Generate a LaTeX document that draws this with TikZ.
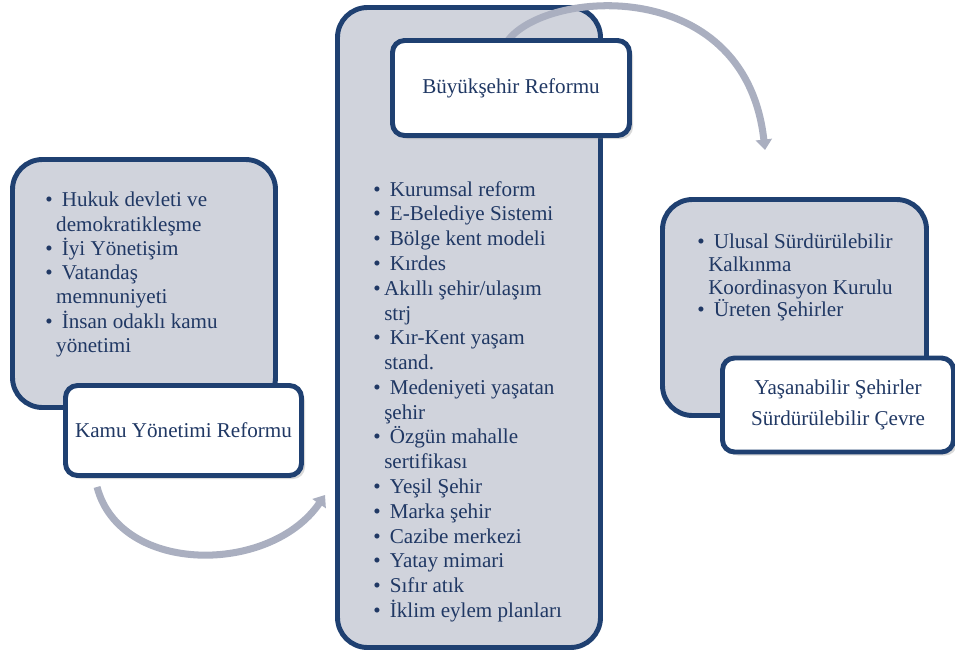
\documentclass[tikz,border=0pt]{standalone}
\usepackage{fontspec}
\setmainfont{Liberation Serif}
\usetikzlibrary{arrows.meta, positioning, calc, shadows}
\definecolor{refblue}{RGB}{31,64,113}
\definecolor{reftext}{RGB}{32,56,100}
\definecolor{refgray}{RGB}{208,211,220}
\definecolor{refarrow}{RGB}{170,175,192}
\newcommand{\bul}{\textbullet\hspace{5.2pt}}
\newcommand{\cont}{\hspace*{6.2pt}}

\begin{document}
\begin{tikzpicture}[font=\fontsize{12}{14.1}\selectfont, text=reftext,
		panel/.style={draw=refblue, fill=refgray, line width=2.8pt, rounded corners=0.6cm},
		titlebox/.style={draw=refblue, fill=white, line width=2.8pt, rounded corners=0.24cm,
		                 drop shadow={opacity=0.3, shadow xshift=2pt, shadow yshift=-2pt}},
		bullets/.style={align=left, inner sep=0pt, anchor=north west},
		flow/.style={refarrow, line width=4pt, -{Triangle[width=9pt,length=6pt]}}]
		\useasboundingbox (0,0) rectangle (19.1,-13.04);
		\node[panel, minimum width=5.26cm, minimum height=4.96cm] (kamubg) at (2.88,-5.67) {};
		\node[bullets, font=\fontsize{12}{13.8}\selectfont] (kamulist) at (0.9,-3.84) {\bul Hukuk devleti ve\\ \cont demokratikleşme\\
		  \bul İyi Yönetişim\\ \bul Vatandaş\\ \cont memnuniyeti\\ \bul İnsan odaklı kamu\\ \cont yönetimi};
		\node[titlebox, minimum width=4.72cm, minimum height=1.8cm] (kamu) at (3.67,-8.61) {Kamu Yönetimi Reformu};
		\node[panel, minimum width=5.26cm, minimum height=12.8cm] (bsbg) at (9.38,-6.55) {};
		\node[bullets] (bslist) at (7.46,-3.62) {\bul Kurumsal reform\\ \bul E-Belediye Sistemi\\
		  \bul Bölge kent modeli\\ \bul Kırdes\\ \textbullet\hspace{2pt}Akıllı şehir/ulaşım\\ \cont strj\\
		  \bul Kır-Kent yaşam\\ \cont stand.\\ \bul Medeniyeti yaşatan\\ \cont şehir\\
		  \bul Özgün mahalle\\ \cont sertifikası\\ \bul Yeşil Şehir\\ \bul Marka şehir\\
		  \bul Cazibe merkezi\\ \bul Yatay mimari\\ \bul Sıfır atık\\ \bul İklim eylem planları};
		\draw[flow] ($(kamu.south west)+(0.68,-0.18)$) .. controls (2.4,-11.5) and (5.4,-11.5) .. ($(bsbg.south west)+(-0.2,3.1)$);
		\node[panel, minimum width=5.28cm, minimum height=4.32cm] (ysbg) at (15.89,-6.15) {};
		\node[bullets, font=\fontsize{12}{12.9}\selectfont] (yslist) at (13.94,-4.68) {\bul Ulusal Sürdürülebilir\\
		  \cont Kalkınma\\ \cont Koordinasyon Kurulu\\ \bul Üreten Şehirler};
		\node[titlebox, minimum width=4.62cm, minimum height=1.88cm, align=center,
		      font=\fontsize{12}{17.6}\selectfont] (ys) at (16.76,-8.1) {Yaşanabilir Şehirler\\ Sürdürülebilir Çevre};
		\draw[flow] ($(bsbg.north)+(0.72,-0.8)$) .. controls (10.7,0.2) and (14.9,0.6) .. ($(ysbg.north)+(-0.59,0.94)$);
		\node[titlebox, minimum width=4.74cm, minimum height=1.9cm] (bs) at (10.22,-1.76) {Büyükşehir Reformu};
	\end{tikzpicture}
\end{document}
